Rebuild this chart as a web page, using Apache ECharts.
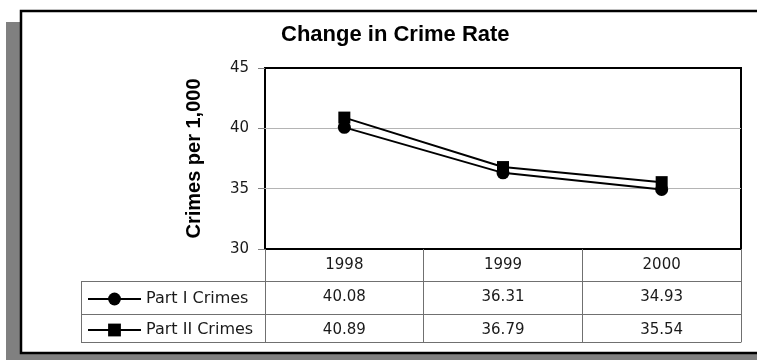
<!DOCTYPE html>
<html>
<head>
<meta charset="utf-8">
<script src="https://cdn.jsdelivr.net/npm/echarts@6/dist/echarts.min.js"></script>
<style>
  html, body { margin: 0; padding: 0; background: #fff; }
  #chart { width: 757px; height: 360px; }
</style>
</head>
<body>
<div id="chart"></div>
<script>
// Crime rate per 1,000 residents, by year
const years = ['1998', '1999', '2000'];
const partI = [40.08, 36.31, 34.93];
const partII = [40.89, 36.79, 35.54];
const seriesNames = ['Part I Crimes', 'Part II Crimes'];
const yMin = 30, yMax = 45, yStep = 5;

const chart = echarts.init(document.getElementById('chart'), null, { renderer: 'canvas' });

const W = 757, H = 360;
const grid = { left: 265, right: 16, top: 68, bottom: 111 };
// data-table row boundaries, measured down from the plot's bottom edge
const rowLines = [32, 65, 93];
const legendColLeft = 81;
const tableFont = 'DejaVu Sans';
const tableGray = '#707070';
const textColor = '#1a1a1a';

function valueRow(values, offset) {
  return {
    type: 'category',
    data: values.map(v => v.toFixed(2)),
    position: 'bottom',
    offset: offset,
    boundaryGap: true,
    axisLine: { show: true, lineStyle: { color: tableGray, width: 1 } },
    axisTick: { show: false },
    axisLabel: { interval: 0, margin: 9, fontFamily: tableFont, fontSize: 15, color: textColor },
    splitLine: { show: false }
  };
}

const plotBottom = H - grid.bottom;
const tableGraphics = [];
// horizontal lines of the legend column
rowLines.forEach(off => {
  tableGraphics.push({
    type: 'line', z: 5,
    shape: { x1: legendColLeft, y1: plotBottom + off + 0.5, x2: grid.left, y2: plotBottom + off + 0.5 },
    style: { stroke: tableGray, lineWidth: 1 }
  });
});
// left edge of the legend column
tableGraphics.push({
  type: 'line', z: 5,
  shape: { x1: legendColLeft + 0.5, y1: plotBottom + rowLines[0], x2: legendColLeft + 0.5, y2: plotBottom + rowLines[2] + 1 },
  style: { stroke: tableGray, lineWidth: 1 }
});

const option = {
  animation: false,
  backgroundColor: '#fff',
  title: {
    text: 'Change in Crime Rate',
    left: 281,
    top: 24,
    padding: 0,
    textStyle: { fontFamily: 'Liberation Sans', fontWeight: 'bold', fontSize: 22, color: '#000' }
  },
  legend: {
    data: seriesNames,
    orient: 'vertical',
    left: 87,
    top: 291,
    padding: 0,
    itemWidth: 53,
    itemHeight: 16,
    itemGap: 15,
    selectedMode: false,
    textStyle: { fontFamily: tableFont, fontSize: 16, color: textColor }
  },
  grid: {
    left: grid.left, right: grid.right, top: grid.top, bottom: grid.bottom,
    show: true, borderColor: '#000', borderWidth: 2, backgroundColor: 'transparent'
  },
  xAxis: [
    {
      type: 'category',
      data: years,
      position: 'bottom',
      boundaryGap: true,
      axisLine: { show: false },
      axisTick: { show: true, interval: 0, length: rowLines[2], lineStyle: { color: tableGray, width: 1 } },
      axisLabel: { interval: 0, margin: 9, fontFamily: tableFont, fontSize: 15, color: textColor },
      splitLine: { show: false }
    },
    valueRow(partI, rowLines[0]),
    valueRow(partII, rowLines[1]),
    {
      type: 'category',
      data: years,
      position: 'bottom',
      offset: rowLines[2],
      axisLine: { show: true, lineStyle: { color: tableGray, width: 1 } },
      axisTick: { show: false },
      axisLabel: { show: false },
      splitLine: { show: false }
    }
  ],
  yAxis: {
    type: 'value',
    min: yMin, max: yMax, interval: yStep,
    name: 'Crimes per 1,000',
    nameLocation: 'middle',
    nameGap: 61,
    nameRotate: 90,
    nameTextStyle: { fontFamily: 'Liberation Sans', fontWeight: 'bold', fontSize: 20, color: '#000' },
    axisLine: { show: false },
    axisTick: { show: true, length: 7, lineStyle: { color: '#808080' } },
    axisLabel: { margin: 16, fontFamily: tableFont, fontSize: 15, color: textColor },
    splitLine: { show: true, lineStyle: { color: ['transparent', '#b4b4b4', '#b4b4b4', 'transparent'], width: 1 } }
  },
  series: [
    {
      name: seriesNames[0], type: 'line', data: partI, xAxisIndex: 0,
      symbol: 'circle', symbolSize: 13, clip: false,
      lineStyle: { color: '#000', width: 2 }, itemStyle: { color: '#000' }
    },
    {
      name: seriesNames[1], type: 'line', data: partII, xAxisIndex: 0,
      symbol: 'rect', symbolSize: 12, clip: false,
      lineStyle: { color: '#000', width: 2 }, itemStyle: { color: '#000' }
    }
  ],
  graphic: [
    // drop shadow and outer frame behind the chart
    { type: 'rect', z: -20, shape: { x: 6, y: 22, width: W + 40, height: H }, style: { fill: '#808080' } },
    { type: 'rect', z: -19, shape: { x: 21, y: 11, width: W + 40, height: 342 }, style: { fill: '#fff', stroke: '#000', lineWidth: 2.5 } }
  ].concat(tableGraphics)
};

chart.setOption(option);
</script>
</body>
</html>
